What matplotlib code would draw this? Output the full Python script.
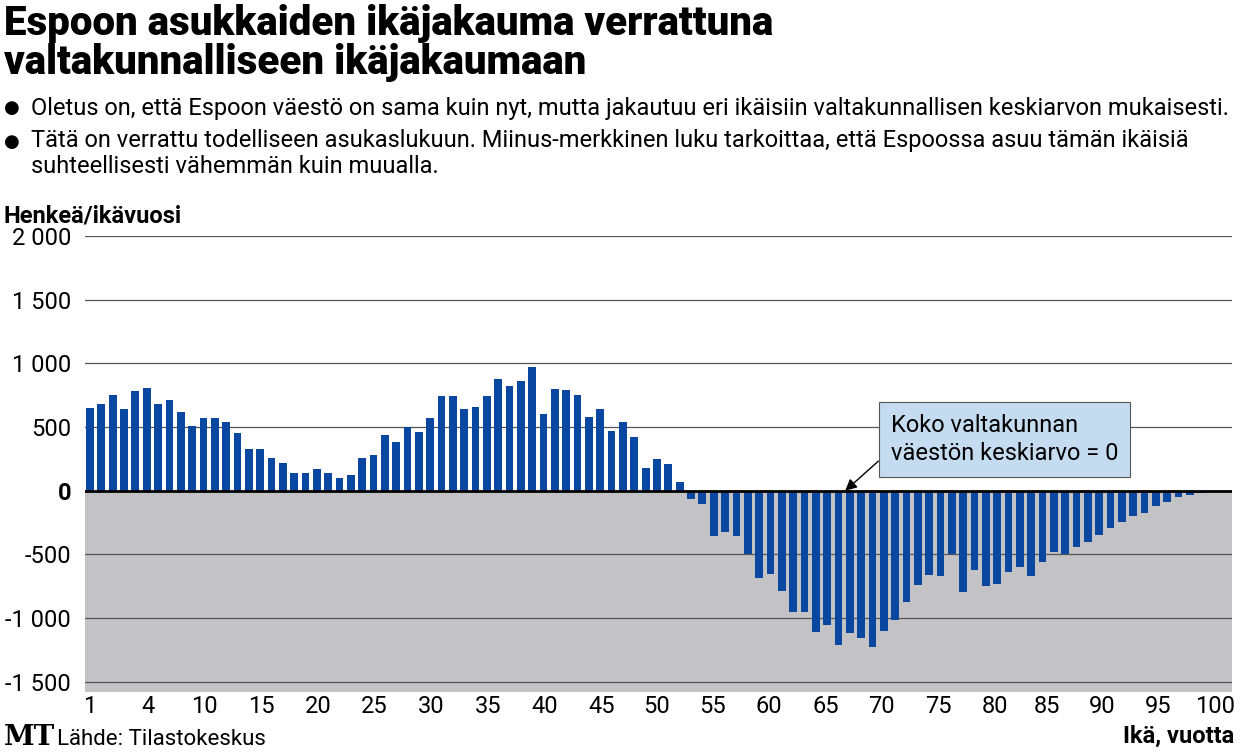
import matplotlib.pyplot as plt
import numpy as np

# Espoo vs national age distribution difference, persons per age year
ages = np.arange(1, 101)
pos_vals = [650, 680, 750, 640, 780, 810, 680, 710, 620, 510, 570, 570, 540, 450, 330, 330, 260, 220, 140, 140,
            170, 140, 100, 120, 260, 280, 440, 380, 500, 460, 570, 740, 740, 640, 660, 740, 880, 820, 860, 970,
            600, 800, 790, 750, 580, 640, 470, 540, 420, 180, 250, 210, 70]
neg_vals = [-65, -105, -353, -327, -353, -497, -688, -654, -785, -955, -950, -1112, -1055, -1209, -1118, -1157,
            -1230, -1105, -1013, -877, -738, -660, -673, -497, -798, -620, -751, -733, -641, -597, -667, -558,
            -479, -497, -445, -406, -348, -296, -243, -202, -178, -123, -86, -47, -31, -18, -8]
values = pos_vals + neg_vals
yticks = [-1500, -1000, -500, 0, 500, 1000, 1500, 2000]
ytick_labels = ['-1 500', '-1 000', '-500', '0', '500', '1 000', '1 500', '2 000']
xtick_labels = ['1', '4', '10', '15', '20', '25', '30', '35', '40', '45', '50',
                '55', '60', '65', '70', '75', '80', '85', '90', '95', '100']
xtick_pos = [1, 6.1, 11.1, 16.1, 21.1, 26.1, 31.1, 36.1, 41.1, 46.1, 51,
             55.9, 60.9, 65.9, 70.8, 75.8, 80.8, 85.4, 90.3, 95.2, 100.2]

plt.rcParams['font.family'] = ['Roboto', 'DejaVu Sans']
fig = plt.figure(figsize=(12.4, 7.53), dpi=100)
ax = fig.add_axes([85/1240, 1-692/753, 1147/1240, (692-236)/753])

ax.axhspan(-1600, 0, color='#c3c3c5', zorder=0)
for t in yticks:
    if t != 0:
        ax.axhline(t, color='#555555', lw=0.9, zorder=1)
ax.bar(ages, values, width=0.68, color='#0a47a0', zorder=2)
ax.axhline(0, color='black', lw=2, zorder=3)

ax.set_xlim(0.56, 0.56 + 1147/11.34)
ax.set_ylim(-1580, 2000)
for s in ax.spines.values():
    s.set_visible(False)
ax.set_yticks(yticks)
ax.set_yticklabels(ytick_labels, fontsize=17)
for lab in ax.get_yticklabels():
    if lab.get_text() == '0':
        lab.set_fontweight('bold')
ax.tick_params(axis='y', length=0, pad=10)
ax.set_xticks(xtick_pos)
ax.set_xticklabels(xtick_labels, fontsize=17)
ax.tick_params(axis='x', length=0, pad=2)

ax.annotate('Koko valtakunnan\nväestön keskiarvo = 0', xy=(67.6, 0), xytext=(71.6, 400),
            fontsize=17, ha='left', va='center', linespacing=1.3,
            bbox=dict(boxstyle='square,pad=0.5', fc='#c5dcf0', ec='#555555', lw=0.8),
            arrowprops=dict(arrowstyle='-|>', color='black', lw=1, shrinkA=0, shrinkB=0,
                            relpos=(-0.05, 0.1)))

fig.text(0.003, 0.995, 'Espoon asukkaiden ikäjakauma verrattuna\nvaltakunnalliseen ikäjakaumaan',
         fontsize=29, fontweight='black', va='top', linespacing=1.0)
fig.text(0.003, 0.856, '●', fontsize=13, va='center')
fig.text(0.025, 0.856, 'Oletus on, että Espoon väestö on sama kuin nyt, mutta jakautuu eri ikäisiin valtakunnallisen keskiarvon mukaisesti.',
         fontsize=17, va='center')
fig.text(0.003, 0.811, '●', fontsize=13, va='center')
fig.text(0.025, 0.829, 'Tätä on verrattu todelliseen asukaslukuun. Miinus-merkkinen luku tarkoittaa, että Espoossa asuu tämän ikäisiä\nsuhteellisesti vähemmän kuin muualla.',
         fontsize=17, va='top', linespacing=1.2)
fig.text(0.003, 0.713, 'Henkeä/ikävuosi', fontsize=17, fontweight='bold', va='center')
fig.text(0.995, 0.022, 'Ikä, vuotta', fontsize=17, fontweight='bold', ha='right', va='center')
fig.text(0.003, 0.02, 'MT', fontsize=20, fontweight='bold', family='DejaVu Serif', va='center')
fig.text(0.046, 0.018, 'Lähde: Tilastokeskus', fontsize=16, va='center')

fig.savefig('out.png', dpi=100)
